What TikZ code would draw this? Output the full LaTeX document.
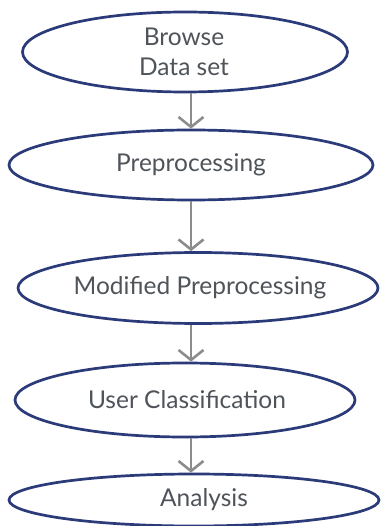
\documentclass[tikz,border=0pt]{standalone}
\usepackage{fontspec}
\setmainfont{Lato}
\usetikzlibrary{shapes.geometric,arrows.meta}
\definecolor{edgeblue}{HTML}{2B3A78}
\definecolor{txtgray}{HTML}{4F545A}
\definecolor{arrgray}{HTML}{8C8C8C}
\begin{document}
\begin{tikzpicture}[x=1pt,y=-1pt,
  oval/.style={ellipse,draw=edgeblue,line width=2.7pt,fill=white,inner sep=0pt,
    text=txtgray,font=\fontsize{24.5}{30}\selectfont,align=center},
  lbl/.style={inner sep=0pt,text=txtgray,font=\fontsize{24.5}{30}\selectfont,align=center},
  flow/.style={draw=arrgray,line width=2.2pt,-{Straight Barb[length=10pt,width=25pt,line width=2.6pt]}}]
\useasboundingbox (0,0) rectangle (381,526);
\node[oval,minimum width=325pt,minimum height=80pt] (b) at (185,52) {};
\node[lbl] (bt) at (184,52) {Browse\\Data set};
\node[oval,minimum width=364pt,minimum height=70pt] (p) at (191,165) {Preprocessing};
\node[oval,minimum width=360pt,minimum height=71pt] (m) at (198,288) {};
\node[lbl] (mt) at (200,288) {Modified Preprocessing};
\node[oval,minimum width=340pt,minimum height=74pt] (u) at (185,400) {};
\node[lbl] (ut) at (187,400) {User Classification};
\node[oval,minimum width=370pt,minimum height=52pt] (a) at (194,500) {};
\node[lbl] (at) at (204,500) {Analysis};
\draw[flow] (b.south -| 191,0) -- (p.north -| 191,0);
\draw[flow] (p.south -| 191,0) -- (m.north -| 191,0);
\draw[flow] (m.south -| 191,0) -- (u.north -| 191,0);
\draw[flow] (u.south -| 191,0) -- (a.north -| 191,0);
\end{tikzpicture}
\end{document}
